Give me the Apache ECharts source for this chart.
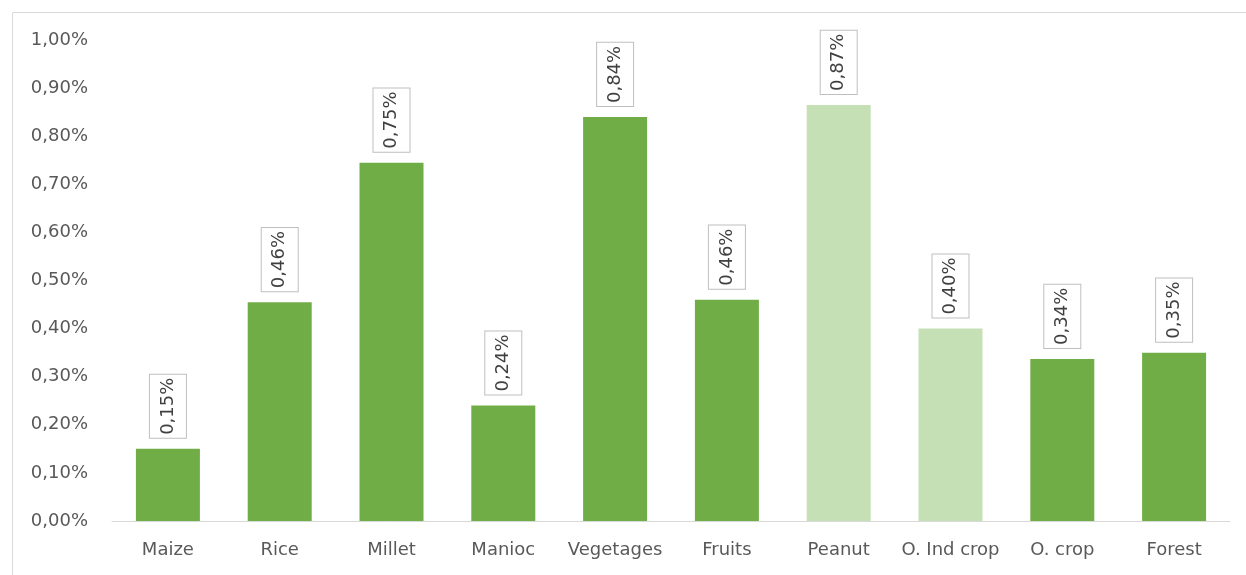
<!DOCTYPE html>
<html>
<head>
<meta charset="utf-8">
<script src="https://cdn.jsdelivr.net/npm/echarts@6/dist/echarts.min.js"></script>
<style>
  html, body { margin: 0; padding: 0; background: #fff; }
  #chart { width: 1246px; height: 575px; }
</style>
</head>
<body>
<div id="chart"></div>
<script>
// Categories and values (values in percent)
var categories = ['Maize', 'Rice', 'Millet', 'Manioc', 'Vegetages', 'Fruits', 'Peanut', 'O. Ind crop', 'O. crop', 'Forest'];
var values = [0.15, 0.455, 0.745, 0.24, 0.84, 0.46, 0.865, 0.40, 0.337, 0.35];
// Which bars are drawn in the lighter shade
var lightBars = ['Peanut', 'O. Ind crop'];

var darkGreen = '#70AD47';
var lightGreen = '#C5E0B4';

function pct(v) {
    // Format as "0,15%"
    return (Math.round(v * 100) / 100).toFixed(2).replace('.', ',') + '%';
}

var chart = echarts.init(document.getElementById('chart'));

var option = {
    animation: false,
    backgroundColor: '#fff',
    textStyle: { fontFamily: 'DejaVu Sans' },
    graphic: [{
        type: 'rect',
        shape: { x: 12.5, y: 12.5, width: 1250, height: 600 },
        style: { fill: 'none', stroke: '#d9d9d9', lineWidth: 1 },
        silent: true
    }],
    grid: { left: 112, right: 16, top: 40, bottom: 54 },
    xAxis: {
        type: 'category',
        data: categories,
        axisLine: { lineStyle: { color: '#d9d9d9', width: 1 } },
        axisTick: { show: false },
        axisLabel: { color: '#595959', fontSize: 18, margin: 20, interval: 0, fontFamily: 'DejaVu Sans' }
    },
    yAxis: {
        type: 'value',
        min: 0,
        max: 1,
        interval: 0.1,
        axisLine: { show: false },
        axisTick: { show: false },
        splitLine: { show: false },
        axisLabel: {
            color: '#595959',
            fontSize: 18,
            margin: 24,
            fontFamily: 'DejaVu Sans',
            formatter: function (v) { return pct(v); }
        }
    },
    series: [{
        type: 'bar',
        barWidth: 64,
        data: values.map(function (v, i) {
            return {
                value: v,
                itemStyle: { color: lightBars.indexOf(categories[i]) >= 0 ? lightGreen : darkGreen }
            };
        }),
        label: {
            show: true,
            position: 'top',
            distance: 11,
            rotate: 90,
            align: 'left',
            verticalAlign: 'middle',
            color: '#404040',
            fontSize: 18,
            lineHeight: 20,
            fontFamily: 'DejaVu Sans',
            backgroundColor: '#fff',
            borderColor: '#bfbfbf',
            borderWidth: 1,
            padding: [8, 3, 8, 3],
            formatter: function (p) { return pct(p.value); }
        }
    }]
};
chart.setOption(option);
</script>
</body>
</html>
